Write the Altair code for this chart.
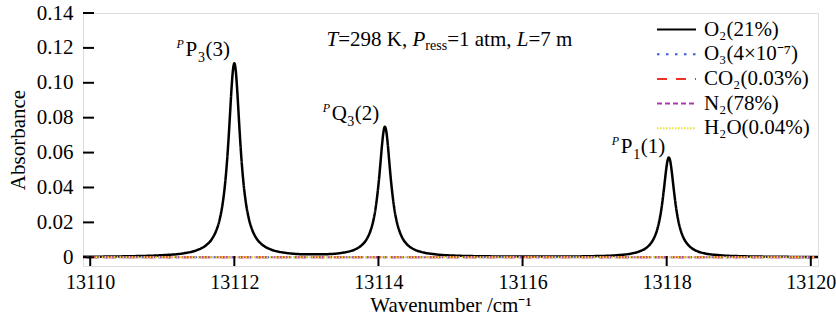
import altair as alt
import pandas as pd

# ---------------- data ----------------
species = ["O₂(21%)", "O₃(4×10⁻⁷)", "CO₂(0.03%)", "N₂(78%)", "H₂O(0.04%)"]
colors = ["#000000", "#2f5fd6", "#ec3428", "#a53fae", "#e8e233"]
dashes = [[1, 0], [2.5, 6.5], [10, 9], [5, 3], [1.5, 1.5]]

o2_x = [13109.90, 13110.50, 13111.00, 13111.30, 13111.50, 13111.60, 13111.70, 13111.75,
        13111.80, 13111.84, 13111.87, 13111.90, 13111.92, 13111.94, 13111.96, 13111.98,
        13112.00, 13112.02, 13112.04, 13112.06, 13112.08, 13112.10, 13112.13, 13112.16,
        13112.20, 13112.25, 13112.30, 13112.40, 13112.50, 13112.70, 13113.00, 13113.30,
        13113.50, 13113.60, 13113.70, 13113.79, 13113.84, 13113.89, 13113.93, 13113.96,
        13113.99, 13114.01, 13114.03, 13114.05, 13114.07, 13114.09, 13114.11, 13114.13,
        13114.15, 13114.17, 13114.19, 13114.22, 13114.25, 13114.29, 13114.34, 13114.39,
        13114.49, 13114.59, 13114.79, 13115.09, 13115.50, 13116.00, 13116.50, 13117.00,
        13117.30, 13117.53, 13117.63, 13117.73, 13117.78, 13117.83, 13117.87, 13117.90,
        13117.93, 13117.95, 13117.97, 13117.99, 13118.01, 13118.03, 13118.05, 13118.07,
        13118.09, 13118.11, 13118.13, 13118.16, 13118.19, 13118.23, 13118.28, 13118.33,
        13118.43, 13118.53, 13118.73, 13119.03, 13119.50, 13120.10]
o2_y = [0.0003, 0.00056, 0.0012, 0.0023, 0.0044, 0.0066, 0.0112, 0.0154,
        0.0223, 0.0313, 0.0415, 0.0557, 0.0679, 0.0818, 0.0959, 0.1069,
        0.1112, 0.1069, 0.0959, 0.0818, 0.0679, 0.0557, 0.0415, 0.0314,
        0.0224, 0.0155, 0.0113, 0.0068, 0.0046, 0.0026, 0.0017, 0.0018,
        0.0026, 0.0034, 0.0050, 0.0078, 0.0106, 0.0152, 0.0212, 0.0280,
        0.0376, 0.0457, 0.0550, 0.0645, 0.0719, 0.0748, 0.0719, 0.0645,
        0.0550, 0.0457, 0.0376, 0.0280, 0.0212, 0.0152, 0.0105, 0.0077,
        0.0046, 0.0031, 0.0017, 0.0009, 0.00055, 0.0004, 0.00042, 0.00066,
        0.00115, 0.0023, 0.0035, 0.0058, 0.0080, 0.0115, 0.0161, 0.0213,
        0.0286, 0.0349, 0.0420, 0.0493, 0.0550, 0.0572, 0.0550, 0.0493,
        0.0420, 0.0349, 0.0286, 0.0213, 0.0161, 0.0115, 0.0080, 0.0058,
        0.0034, 0.0022, 0.0012, 0.0006, 0.0003, 0.00015]

flat_x = [13109.95, 13120.05]
o3_y = [0.0, 0.0]
co2_y = [0.0, 0.0]
n2_y = [0.0, 0.0]
h2o_y = [0.0, 0.0]

x_ticks = [13110, 13112, 13114, 13116, 13118, 13120]
y_ticks = [0, 0.02, 0.04, 0.06, 0.08, 0.10, 0.12, 0.14]
x_domain = [13109.9, 13120.1]
y_domain = [-0.005, 0.14]

# peak labels: superscript P, letter, subscript, parenthesis
lab_x = [13111.24, 13113.27, 13117.28]
lab_y = [0.1156, 0.0784, 0.0599]
lab_letter = ["P", "Q", "P"]
lab_sub = ["3", "3", "1"]
lab_par = ["(3)", "(2)", "(1)"]

cond_x = [13113.28]
cond_y = [0.1213]

FONT = "Liberation Serif"
FS = 21
W, H = 735, 253

# ---------------- frames ----------------
o2_df = pd.DataFrame({"x": o2_x, "y": o2_y, "s": species[0]})
others_df = pd.concat([
    pd.DataFrame({"x": flat_x, "y": vals, "s": name})
    for name, vals in zip(species[1:], [o3_y, co2_y, n2_y, h2o_y])
], ignore_index=True)
lab_df = pd.DataFrame({"x": lab_x, "y": lab_y, "letter": lab_letter,
                       "sub": lab_sub, "par": lab_par})
cond_df = pd.DataFrame({"x": cond_x, "y": cond_y})

xs = alt.Scale(domain=x_domain, nice=False, zero=False)
ys = alt.Scale(domain=y_domain, nice=False, zero=False)

def make_legend():
    return alt.Legend(title=None, orient="none", legendX=582.5, legendY=5.5,
                      symbolType="M-2,0H2", symbolSize=380,
                      symbolStrokeWidth=2, labelFont=FONT,
                      labelFontSize=FS, labelColor="black",
                      labelOffset=16.4, rowPadding=3.7, padding=0,
                      labelLimit=300)

color_enc = alt.Color("s:N", scale=alt.Scale(domain=species, range=colors),
                      legend=make_legend())
dash_enc = alt.StrokeDash("s:N", scale=alt.Scale(domain=species, range=dashes),
                          legend=make_legend())

x_axis = alt.Axis(values=x_ticks, format="d", tickSize=0, domain=False, grid=False,
                  labelFont=FONT, labelFontSize=20, labelColor="black", labelPadding=6,
                  labelOverlap=False, labelFlush=False,
                  title="Wavenumber /cm⁻¹", titleFont=FONT, titleFontSize=FS,
                  titleFontWeight="normal", titleColor="black", titlePadding=2)
y_axis = alt.Axis(values=y_ticks, tickSize=0, domain=False, grid=False,
                  labelFont=FONT, labelFontSize=FS, labelColor="black", labelPadding=10,
                  labelOverlap=False, labelFlush=False, labelSeparation=0,
                  labelExpr="datum.value == 0 ? '0' : format(datum.value, '.2f')",
                  title="Absorbance", titleFont=FONT, titleFontSize=FS,
                  titleFontWeight="normal", titleColor="black", titlePadding=8)

o2_line = alt.Chart(o2_df).mark_line(strokeWidth=2.5, interpolate="monotone").encode(
    x=alt.X("x:Q", scale=xs, axis=x_axis),
    y=alt.Y("y:Q", scale=ys, axis=y_axis),
    color=color_enc, strokeDash=dash_enc, detail="s:N")

other_lines = alt.Chart(others_df).mark_line(strokeWidth=2).encode(
    x=alt.X("x:Q", scale=xs, axis=x_axis), y=alt.Y("y:Q", scale=ys, axis=y_axis),
    color=color_enc, strokeDash=dash_enc, detail="s:N")

xt_df = pd.DataFrame({"x": x_ticks})
yt_df = pd.DataFrame({"y": y_ticks})
x_tick_rules = alt.Chart(xt_df).mark_rule(color="black", strokeWidth=2).encode(
    x=alt.X("x:Q", scale=xs, axis=x_axis), y=alt.value(H), y2=alt.value(H - 10))
y_tick_rules = alt.Chart(yt_df).mark_rule(color="black", strokeWidth=2).encode(
    y=alt.Y("y:Q", scale=ys, axis=y_axis), x=alt.value(0), x2=alt.value(11))

def txt(df, text, dx=0, dy=0, size=FS, style="normal", filt=None):
    c = alt.Chart(df)
    if filt is not None:
        c = c.transform_filter(filt)
    m = c.mark_text(align="left", baseline="alphabetic", font=FONT, fontSize=size,
                    fontStyle=style, color="black", dx=dx, dy=dy)
    enc = dict(x=alt.X("x:Q", scale=xs, axis=x_axis), y=alt.Y("y:Q", scale=ys, axis=y_axis))
    if isinstance(text, str) and text.startswith("field:"):
        return m.encode(text=alt.Text(text[6:] + ":N"), **enc)
    return m.encode(text=alt.value(text), **enc)

label_layers = [
    txt(lab_df, "P", dx=-3, dy=-8, size=12, style="italic"),
    txt(lab_df, "field:letter", dx=6),
    txt(lab_df, "field:sub", dx=18.5, dy=6, size=14, filt="datum.letter == 'P'"),
    txt(lab_df, "field:sub", dx=21.5, dy=6, size=14, filt="datum.letter == 'Q'"),
    txt(lab_df, "field:par", dx=26, filt="datum.letter == 'P'"),
    txt(lab_df, "field:par", dx=29, filt="datum.letter == 'Q'"),
]

cond_layers = [
    txt(cond_df, "T", dx=0, style="italic"),
    txt(cond_df, "=298 K,", dx=11.7),
    txt(cond_df, "P", dx=86, style="italic"),
    txt(cond_df, "ress", dx=98.8, dy=4, size=14),
    txt(cond_df, "=1 atm,", dx=120.6),
    txt(cond_df, "L", dx=190.2, style="italic"),
    txt(cond_df, "=7 m", dx=201.9),
]

chart = alt.layer(o2_line, other_lines, x_tick_rules, y_tick_rules,
                  *label_layers, *cond_layers).properties(
    width=W, height=H,
    autosize=alt.AutoSizeParams(type="none"),
    padding={"left": 83, "top": 13, "right": 18, "bottom": 56},
).configure_view(stroke="black", strokeWidth=2).configure_axis(
    labelOverlap=False).configure(background="white")

chart.save("out.html", embed_options={"renderer": "svg", "actions": False})
